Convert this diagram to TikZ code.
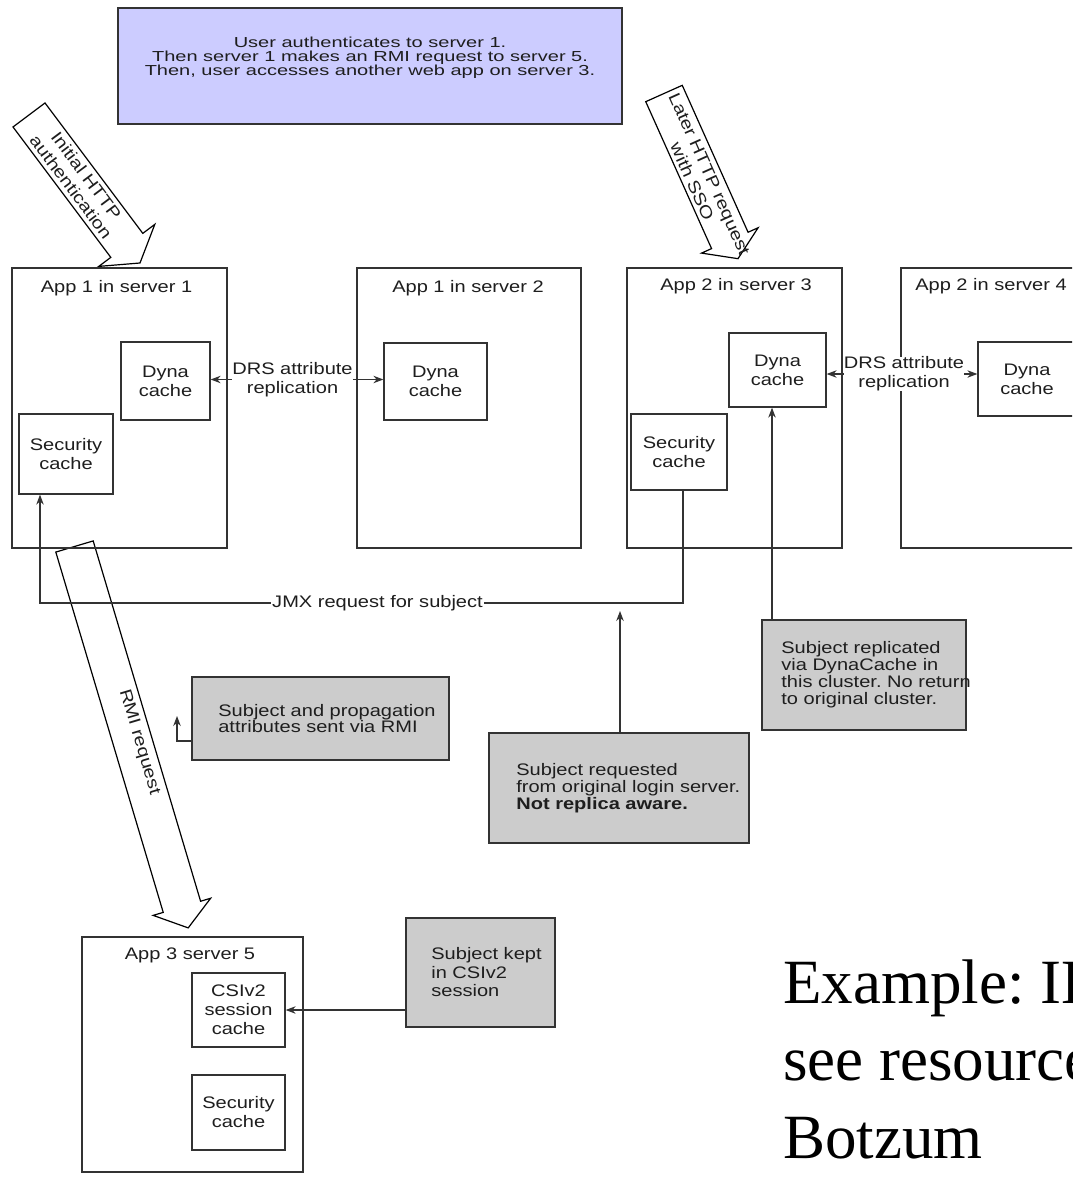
\documentclass[tikz,border=0pt]{standalone}
\usepackage{fontspec}
\setmainfont{Liberation Sans}[FakeStretch=1.2]
\newfontfamily\widesans{Liberation Sans}[FakeStretch=1.38]
\newfontfamily\slideserif{Liberation Serif}
\usetikzlibrary{arrows.meta}
\frenchspacing

\definecolor{ink}{HTML}{1E1E1E}
\definecolor{edge}{HTML}{333333}
\definecolor{lavender}{HTML}{CCCCFF}
\definecolor{notegray}{HTML}{CCCCCC}

\tikzset{
  txt/.style={font=\fontsize{16.7}{19}\selectfont, text=ink, align=center, inner sep=0pt},
  server/.style={draw=edge, line width=1.3pt, minimum height=280pt, inner sep=0pt},
  cache/.style={draw=edge, line width=1.3pt, fill=white, inner sep=0pt,
    font=\fontsize{16.7}{19}\selectfont, text=ink, align=center},
  note/.style={draw=edge, line width=1.7pt, fill=notegray, inner sep=0pt},
  notetext/.style={txt, align=left, anchor=west},
  link/.style={draw=edge, line width=1.1pt, -{Stealth[length=10pt,width=7.5pt]}},
  duplex/.style={draw=edge, line width=1.1pt,
    {Stealth[length=10pt,width=7.5pt]}-{Stealth[length=10pt,width=7.5pt]}},
  hollow/.style={draw=black, line width=1.2pt, fill=white, line join=miter},
  caption/.style={anchor=base west, inner sep=0pt, text=black,
    font=\slideserif\fontsize{63}{76}\selectfont},
}

\begin{document}
\begin{tikzpicture}[x=1pt,y=-1pt]
\clip (0,0) rectangle (1072,1177);
\fill[white] (0,0) rectangle (1072,1177);

% ---- block arrows -------------------------------------------------------
\begin{scope}[shift={(29,115)},rotate=-53.13]
  \draw[hollow] (0,-20) -- (163,-20) -- (163,-35) -- (185,0) -- (163,35) -- (163,20) -- (0,20) -- cycle;
  \node[txt, rotate=-53.13] (authtxt) at (83,0) {Initial HTTP\\authentication};
\end{scope}

\begin{scope}[shift={(664,93.5)},rotate=-65.87]
  \draw[hollow] (0,-20) -- (161,-20) -- (161,-31) -- (181,0) -- (161,31) -- (161,20) -- (0,20) -- cycle;
  \node[txt, rotate=-65.87] (ssotxt) at (92,1) {Later HTTP request\\with SSO};
\end{scope}

\begin{scope}[shift={(74.5,546.5)},rotate=-73.4]
  \draw[hollow] (0,-19.5) -- (376,-19.5) -- (376,-30) -- (398,0) -- (376,30) -- (376,19.5) -- (0,19.5) -- cycle;
  \node[txt, rotate=-73.4] (rmitxt) at (206,-6) {RMI request};
\end{scope}

% ---- scenario description ----------------------------------------------
\node[draw=edge, line width=1.3pt, fill=lavender, minimum width=504pt, minimum height=116pt] (story) at (370,66) {};
\node[txt, font=\widesans\fontsize{14.5}{14}\selectfont] (storytxt) at (370,58)
  {User authenticates to server 1.\\Then server 1 makes an RMI request to server 5.\\Then, user accesses another web app on server 3.};

% ---- servers ------------------------------------------------------------
\node[server, minimum width=215pt] (s1) at (119.5,408) {};
\node[txt] (s1lbl) at (116.5,288) {App 1 in server 1};
\node[server, minimum width=224pt] (s2) at (469,408) {};
\node[txt] (s2lbl) at (468,288) {App 1 in server 2};
\node[server, minimum width=215pt] (s3) at (734.5,408) {};
\node[txt] (s3lbl) at (736,286) {App 2 in server 3};
\node[server, minimum width=219pt] (s4) at (1010.5,408) {};
\node[txt] (s4lbl) at (991,286) {App 2 in server 4};
\node[server, minimum width=221pt, minimum height=235pt] (s5) at (192.5,1054.5) {};
\node[txt] (s5lbl) at (190,955) {App 3 server 5};

% ---- caches -------------------------------------------------------------
\node[cache, minimum width=89pt, minimum height=78pt] (d1) at (165.5,381) {Dyna\\cache};
\node[cache, minimum width=94pt, minimum height=80pt] (sc1) at (66,454) {Security\\cache};
\node[cache, minimum width=103pt, minimum height=77pt] (d2) at (435.5,381.5) {Dyna\\cache};
\node[cache, minimum width=97pt, minimum height=74pt] (d3) at (777.5,370) {Dyna\\cache};
\node[cache, minimum width=96pt, minimum height=76pt] (sc3) at (679,452) {Security\\cache};
\node[cache, minimum width=98pt, minimum height=74pt] (d4) at (1027,379) {Dyna\\cache};
\node[cache, minimum width=93pt, minimum height=74pt] (csi) at (238.5,1010) {CSIv2\\session\\cache};
\node[cache, minimum width=93pt, minimum height=75pt] (sc5) at (238.5,1112.5) {Security\\cache};

% ---- DRS replication ----------------------------------------------------
\coordinate (drsAc) at (292.5,379.5);
\coordinate (drsBc) at (904,374);
\draw[duplex] (d1.east |- drsAc) -- (d2.west |- drsAc);
\draw[duplex] (d3.east |- drsBc) -- (d4.west |- drsBc);
\node[txt, fill=white] (drsA) at (drsAc) {DRS attribute\\replication};
\node[txt, fill=white] (drsB) at (drsBc) {DRS attribute\\replication};

% ---- JMX request --------------------------------------------------------
\coordinate (jmxR) at (683,603);
\coordinate (jmxL) at (40,603);
\draw[link] (sc3.south -| jmxR) -- (jmxR) -- (jmxL) -- (jmxL |- sc1.south);
\node[txt, fill=white, inner xsep=1pt, inner ysep=2pt] (jmx) at (377.5,603) {JMX request for subject};

% ---- notes --------------------------------------------------------------
\node[note, minimum width=257pt, minimum height=83pt] (g1) at (320.5,718.5) {};
\node[notetext, font=\fontsize{16.7}{15.5}\selectfont] (g1t) at ([xshift=27pt]g1.west)
  {Subject and propagation\\attributes sent via RMI};

\node[note, minimum width=260pt, minimum height=110pt] (g2) at (619,788) {};
\node[notetext, font=\fontsize{16.7}{17}\selectfont] (g2t) at ([xshift=28pt]g2.west)
  {Subject requested\\from original login server.\\\textbf{Not replica aware.}};

\node[note, minimum width=204pt, minimum height=110pt] (g3) at (864,675) {};
\node[notetext, font=\fontsize{16.7}{17}\selectfont] (g3t) at ([xshift=20pt]g3.west)
  {Subject replicated\\via DynaCache in\\this cluster. No return\\to original cluster.};

\node[note, minimum width=149pt, minimum height=109pt] (g4) at (480.5,972.5) {};
\node[notetext, font=\fontsize{16.7}{18.5}\selectfont] (g4t) at ([xshift=26pt]g4.west)
  {Subject kept\\in CSIv2\\session};

% ---- note connectors ----------------------------------------------------
\coordinate (askTip) at (620,611);
\draw[link] (g2.north -| askTip) -- (askTip);
\coordinate (dynaIn) at ([xshift=-5.5pt]d3.south);
\draw[link] (g3.north -| dynaIn) -- (dynaIn);
\coordinate (propTip) at (177,716);
\draw[link] ([yshift=-22.5pt]g1.west) -| (propTip);
\draw[link] (g4.west |- csi.east) -- (csi.east);

% ---- slide caption ------------------------------------------------------
\node[caption] (ex1) at (783,1003) {Example: IBM};
\node[caption] (ex2) at (783,1080) {see resources};
\node[caption] (ex3) at (783,1158) {Botzum};
\end{tikzpicture}
\end{document}
